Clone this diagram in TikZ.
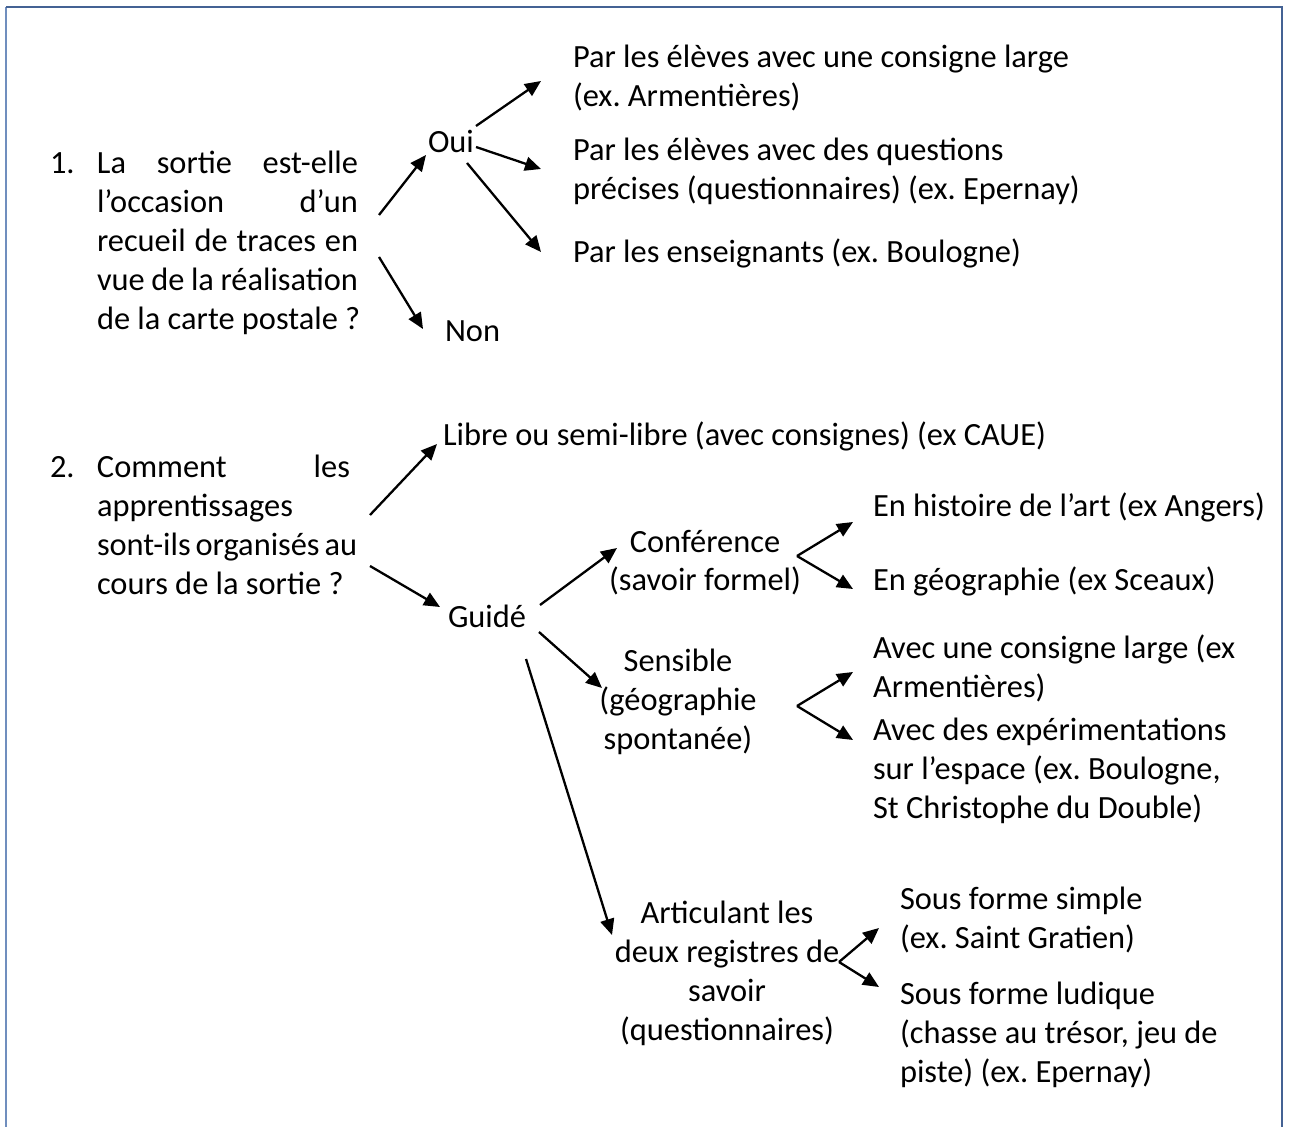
\documentclass[tikz,border=0pt]{standalone}
\usepackage{fontspec}
\setmainfont{Carlito}
\usetikzlibrary{arrows.meta,calc}
\definecolor{frametop}{RGB}{68,98,148}
\definecolor{frameleft}{RGB}{112,142,190}
\newcommand{\jlineA}[1]{\makebox[130.5pt][s]{#1}}
\newcommand{\jlineB}[1]{\makebox[126.5pt][s]{#1}}
\newcommand{\numgap}{\hspace*{23.5pt}}
\frenchspacing

\begin{document}
\begin{tikzpicture}[x=0.5pt,y=-0.5pt,
    txtnode/.style={inner sep=0pt, outer sep=0pt, align=left, anchor=base west,
        font=\fontsize{16.2}{19.5}\selectfont},
    midnode/.style={txtnode, align=center, anchor=base}
    ]
    \tikzset{arr/.style={-{Triangle[length=8pt,width=7pt]}, line width=1.15pt}}
    \tikzset{framepen/.style={line width=1pt}}
    \useasboundingbox (0,0) rectangle (1289,1127);
    %
    %frame
    %
    \draw[framepen, frameleft] (6,1127) -- (6,7);
    \draw[framepen, frametop] (6,7) -- (1282,7) -- (1282,1127);
    %
    %vertices (placed at the baseline of their last line)
    %
    \node[txtnode] (q1) at (50,330) {\makebox[23.5pt][l]{1.}\jlineA{La sortie est-elle}\\
        \numgap\jlineA{l’occasion d’un}\\
        \numgap\jlineA{recueil de traces en}\\
        \numgap\jlineA{vue de la réalisation}\\
        \numgap de la carte postale ?};
    \node[txtnode] (oui) at (428,153) {Oui};
    \node[txtnode] (non) at (445,342) {Non};
    \node[txtnode] (par1) at (573,107) {Par les élèves avec une consigne large\\(ex. Armentières)};
    \node[txtnode] (par2) at (573,200) {Par les élèves avec des questions\\précises (questionnaires) (ex. Epernay)};
    \node[txtnode] (par3) at (573,263) {Par les enseignants (ex. Boulogne)};
    %
    \node[txtnode] (q2) at (50,595) {\makebox[23.5pt][l]{2.}\jlineB{Comment les}\\
        \numgap apprentissages\\
        \numgap\jlineB{sont-ils organisés au}\\
        \numgap cours de la sortie ?};
    \node[txtnode] (libre) at (443,446) {Libre ou semi-libre (avec consignes) (ex CAUE)};
    \node[txtnode] (guide) at (448,627) {Guidé};
    \node[midnode] (conf) at (705,591) {Conférence\\(savoir formel)};
    \node[txtnode] (hist) at (873,517) {En histoire de l’art (ex Angers)};
    \node[txtnode] (geo) at (873,591) {En géographie (ex Sceaux)};
    \node[midnode] (sens) at (678,749) {Sensible\\(géographie\\spontanée)};
    \node[txtnode] (large) at (873,697) {Avec une consigne large (ex\\Armentières)};
    \node[txtnode] (exper) at (873,818) {Avec des expérimentations\\sur l’espace (ex. Boulogne,\\St Christophe du Double)};
    \node[midnode] (artic) at (727,1040) {Articulant les\\deux registres de\\savoir\\(questionnaires)};
    \node[txtnode] (simple) at (900,948) {Sous forme simple\\(ex. Saint Gratien)};
    \node[txtnode] (ludique) at (900,1082) {Sous forme ludique\\(chasse au trésor, jeu de\\piste) (ex. Epernay)};
    %
    \coordinate (confv) at ([shift={(92,-35)}]conf.base);
    \coordinate (sensv) at ([shift={(119,-43)}]sens.base);
    \coordinate (articv) at ([shift={(112,-78)}]artic.base);
    %
    %edges
    %
    \draw[arr] ([shift={(329,-115)}]q1.base west) -- ([shift={(-2,2)}]oui.base west);
    \draw[arr] ([shift={(329,-73)}]q1.base west) -- ([shift={(-22,-13)}]non.base west);
    \draw[arr] ([shift={(48,-27)}]oui.base west) -- ([shift={(-32,-26)}]par1.base west);
    \draw[arr] ([shift={(48,-6)}]oui.base west) -- ([shift={(-32,-31)}]par2.base west);
    \draw[arr] ([shift={(39,10)}]oui.base west) -- ([shift={(-32,-11)}]par3.base west);
    %
    \draw[arr] ([shift={(320,-80)}]q2.base west) -- ([shift={(-6,-2)}]libre.base west);
    \draw[arr] ([shift={(320,-29)}]q2.base west) -- ([shift={(-8,-20)}]guide.base west);
    \draw[arr] ([shift={(92,-22)}]guide.base west) -- ([shift={(-88,-43)}]conf.base);
    \draw[arr] ([shift={(91,5)}]guide.base west) -- ([shift={(-76,-61)}]sens.base);
    \draw[arr] ([shift={(78,32)}]guide.base west) -- ([shift={(-115,-105)}]artic.base);
    %
    \draw[arr] (confv) -- ([shift={(-20,5)}]hist.base west);
    \draw[arr] (confv) -- ([shift={(-20,-2)}]geo.base west);
    \draw[arr] (sensv) -- ([shift={(-20,-25)}]large.base west);
    \draw[arr] (sensv) -- ([shift={(-20,-78)}]exper.base west);
    \draw[arr] (articv) -- ([shift={(-21,-20)}]simple.base west);
    \draw[arr] (articv) -- ([shift={(-21,-95)}]ludique.base west);
\end{tikzpicture}
\end{document}
